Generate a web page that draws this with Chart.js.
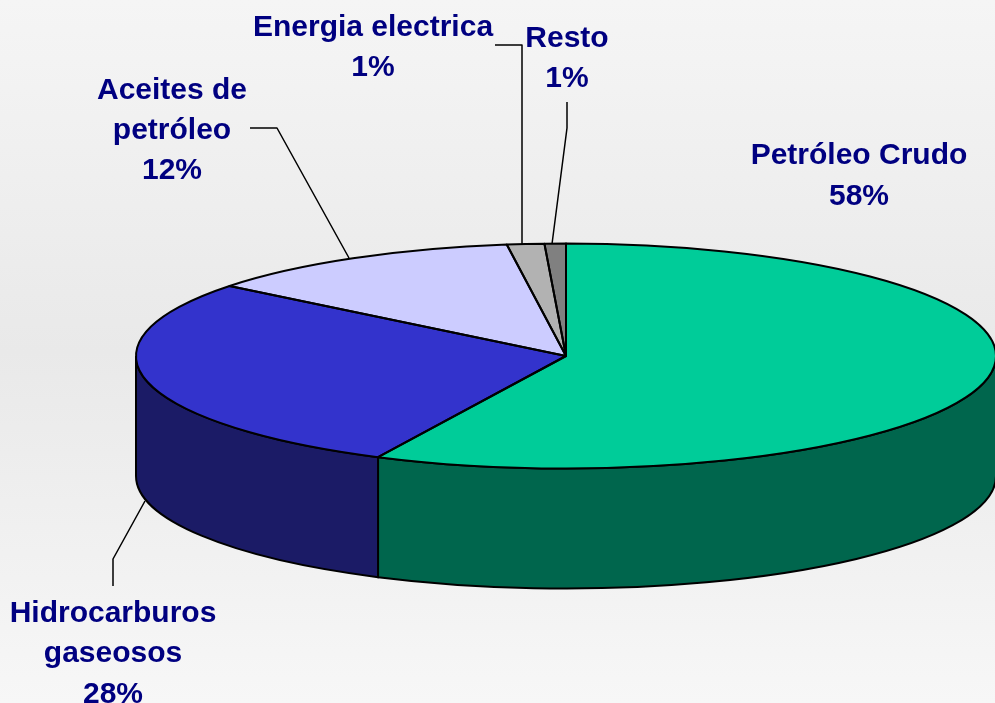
<!DOCTYPE html>
<html>
<head>
<meta charset="utf-8">
<title>Pie 3D</title>
<script src="https://cdn.jsdelivr.net/npm/chart.js@4/dist/chart.umd.min.js"></script>
<style>
  html, body { margin: 0; padding: 0; width: 995px; height: 703px; overflow: hidden; }
  body { background: linear-gradient(to bottom, #f5f5f5 0%, #e9e9e9 50%, #f7f7f7 100%); }
  canvas { display: block; }
</style>
</head>
<body>
<canvas id="chart-pie" width="995" height="703"></canvas>
<script>
// Datos
const categorias = ['Petróleo Crudo', 'Hidrocarburos gaseosos', 'Aceites de petróleo', 'Energia electrica', 'Resto'];
const valores = [57.2, 28.5, 12.1, 1.4, 0.8]; // tamano real de las porciones en la imagen
const porcentajes = ['58%', '28%', '12%', '1%', '1%'];
const coloresTapa = ['#00cc99', '#3333cc', '#ccccff', '#b2b2b2', '#808080'];
const coloresLado = ['#00664d', '#1b1b66', '#666680', '#595959', '#404040'];

// Etiquetas: lineas de texto, centro x y centro y de cada linea
const etiquetas = [
  { lineas: ['Petróleo Crudo', porcentajes[0]], x: 859, y: [156, 197] },
  { lineas: ['Hidrocarburos', 'gaseosos', porcentajes[1]], x: 113, y: [614, 654, 695] },
  { lineas: ['Aceites de', 'petróleo', porcentajes[2]], x: 172, y: [91, 131, 171] },
  { lineas: ['Energia electrica', porcentajes[3]], x: 373, y: [28, 68] },
  { lineas: ['Resto', porcentajes[4]], x: 567, y: [39, 79] }
];

const guias = [
  [[113, 586], [113, 559], [145, 501]],
  [[250, 128], [277, 128], [349, 258]],
  [[495, 45], [522, 45], [522, 244]],
  [[567, 102], [567, 128], [552, 244]]
];

// Geometria de la elipse en pantalla
const CX = 566, CY = 356, RX = 430, RY = 112.5, ALTO = 120;

const pie3d = {
  id: 'pie3d',
  beforeDatasetsDraw(chart) {
    const ctx = chart.ctx;
    const arcos = chart.getDatasetMeta(0).data;
    // Lados visibles: solo la mitad frontal de la elipse
    arcos.forEach((arco, i) => {
      const a = Math.max(arco.startAngle, 0);
      const b = Math.min(arco.endAngle, Math.PI);
      if (b <= a) return;
      ctx.beginPath();
      ctx.ellipse(CX, CY, RX, RY, 0, a, b);
      ctx.ellipse(CX, CY + ALTO, RX, RY, 0, b, a, true);
      ctx.closePath();
      ctx.fillStyle = coloresLado[i];
      ctx.fill();
      ctx.lineWidth = 2;
      ctx.strokeStyle = '#000';
      ctx.stroke();
    });
  },
  beforeDatasetDraw(chart) {
    // Aplasta el pie de Chart.js para que quede como elipse
    const ctx = chart.ctx;
    const arco = chart.getDatasetMeta(0).data[0];
    const r = arco.outerRadius;
    ctx.save();
    ctx.translate(CX, CY);
    ctx.scale(RX / r, RY / r);
    ctx.translate(-arco.x, -arco.y);
  },
  afterDatasetDraw(chart) {
    chart.ctx.restore();
  },
  afterDatasetsDraw(chart) {
    const ctx = chart.ctx;
    const arcos = chart.getDatasetMeta(0).data;
    ctx.lineWidth = 2;
    ctx.strokeStyle = '#000';
    ctx.lineJoin = 'round';
    arcos.forEach((arco) => {
      ctx.beginPath();
      ctx.moveTo(CX, CY);
      ctx.ellipse(CX, CY, RX, RY, 0, arco.startAngle, arco.endAngle);
      ctx.closePath();
      ctx.stroke();
    });

    // Lineas guia
    ctx.lineWidth = 1.5;
    guias.forEach((g) => {
      ctx.beginPath();
      g.forEach((p, i) => (i ? ctx.lineTo(p[0], p[1]) : ctx.moveTo(p[0], p[1])));
      ctx.stroke();
    });

    // Textos
    ctx.fillStyle = '#000080';
    ctx.font = 'bold 30px "Liberation Sans", Arial, sans-serif';
    ctx.textAlign = 'center';
    ctx.textBaseline = 'middle';
    etiquetas.forEach((et) => {
      et.lineas.forEach((linea, i) => ctx.fillText(linea, et.x, et.y[i]));
    });
  }
};

new Chart(document.getElementById('chart-pie'), {
  type: 'pie',
  data: {
    labels: categorias,
    datasets: [{
      data: valores,
      backgroundColor: coloresTapa,
      borderWidth: 0,
      clip: false
    }]
  },
  options: {
    responsive: false,
    animation: false,
    plugins: {
      legend: { display: false },
      tooltip: { enabled: false }
    }
  },
  plugins: [pie3d]
});
</script>
</body>
</html>
